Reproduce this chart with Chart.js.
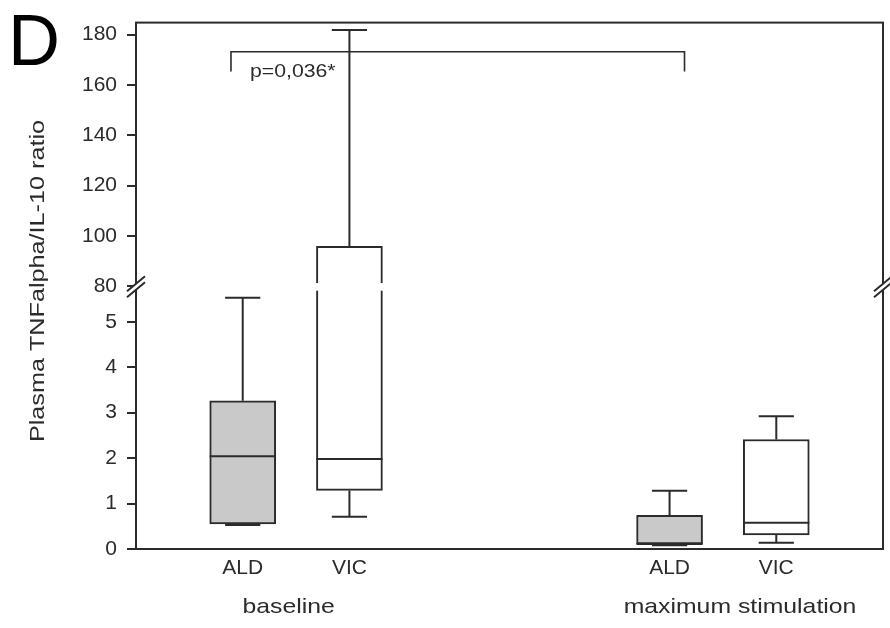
<!DOCTYPE html>
<html>
<head>
<meta charset="utf-8">
<script src="https://cdn.jsdelivr.net/npm/chart.js@4"></script>
<style>
  body { margin: 0; background: #fff; }
</style>
</head>
<body>
<canvas id="boxChart" width="890" height="628"></canvas>
<script>
// category slots on the x axis (empty slots make the gap between the two groups)
const xLabels = ["", "ALD", "VIC", "", "", "ALD", "VIC", ""];
const boxSlot = [1, 2, 5, 6];
const boxFill = ["#c9c9c9", "#ffffff", "#c9c9c9", "#ffffff"];

// box plot values: baseline ALD, baseline VIC, max stim ALD, max stim VIC
const whiskerLow  = [0.53, 0.71, 0.08, 0.14];
const q1          = [0.55, 1.29, 0.11, 0.31];
const median      = [2.04, 1.98, 0.11, 0.58];
const q3          = [3.26, 95.9, 0.74, 2.41];
const whiskerHigh = [5.53, 181.9, 1.28, 2.92];

// broken y axis
const lowerTicks = [0, 1, 2, 3, 4, 5];
const upperTicks = [80, 100, 120, 140, 160, 180];
const lowerTop = 5.69;     // where the box side stops below the break
const upperBottom = 81.2;  // where it starts again above the break

const groupNames = ["baseline", "maximum stimulation"];
const groupPos = [1.43, 5.66];

const bracketX = [0.89, 5.14];
const bracketY = [173.2, 165.4];
const pText = "p=0,036*";

const FONT = "'Liberation Sans', Arial, Helvetica, sans-serif";
const INK = "#2b2b2b";

const lowerData = xLabels.map(() => null);
const upperData = xLabels.map(() => null);
boxSlot.forEach((s, k) => {
    lowerData[s] = [q1[k], Math.min(q3[k], lowerTop)];
    if (q3[k] > lowerTop) upperData[s] = [upperBottom, q3[k]];
});
const slotFill = xLabels.map((_, s) => {
    const k = boxSlot.indexOf(s);
    return k < 0 ? "#fff" : boxFill[k];
});

function yScaleFor(chart, v) {
    return v > 50 ? chart.scales.yTop : chart.scales.y;
}

// text in the original figure is a bit wider than the installed fonts
function wideText(ctx, text, x, y, stretch) {
    ctx.save();
    ctx.translate(x, y);
    ctx.scale(stretch, 1);
    ctx.fillText(text, 0, 0);
    ctx.restore();
}

const boxPlugin = {
    id: "boxParts",
    afterDatasetsDraw(chart) {
        const ctx = chart.ctx;
        const x = chart.scales.x;
        const cap = 0.165;
        ctx.save();
        ctx.strokeStyle = INK;
        ctx.lineWidth = 2;
        boxSlot.forEach((s, k) => {
            const cx = x.getPixelForValue(s);
            const half = x.getPixelForValue(s + 0.31) - cx;
            const capW = x.getPixelForValue(s + cap) - cx;
            const py = v => yScaleFor(chart, v).getPixelForValue(v);
            ctx.beginPath();
            // upper whisker
            ctx.moveTo(cx, py(q3[k]));
            ctx.lineTo(cx, py(whiskerHigh[k]));
            ctx.moveTo(cx - capW, py(whiskerHigh[k]));
            ctx.lineTo(cx + capW, py(whiskerHigh[k]));
            // lower whisker
            ctx.moveTo(cx, py(q1[k]));
            ctx.lineTo(cx, py(whiskerLow[k]));
            ctx.moveTo(cx - capW, py(whiskerLow[k]));
            ctx.lineTo(cx + capW, py(whiskerLow[k]));
            // median
            ctx.moveTo(cx - half, py(median[k]));
            ctx.lineTo(cx + half, py(median[k]));
            ctx.stroke();
        });
        ctx.restore();
    },
    afterDraw(chart) {
        const ctx = chart.ctx;
        const a = chart.chartArea;
        const x = chart.scales.x;
        const yTop = chart.scales.yTop;
        const breakY = chart.scales.y.top;
        ctx.save();
        ctx.strokeStyle = INK;
        ctx.lineWidth = 2;
        ctx.strokeRect(a.left, a.top, a.right - a.left, a.bottom - a.top);

        // axis break marks
        [a.left, a.right].forEach(bx => {
            ctx.fillStyle = "#fff";
            ctx.beginPath();
            ctx.moveTo(bx - 9, breakY + 4.5);
            ctx.lineTo(bx + 9, breakY - 10.5);
            ctx.lineTo(bx + 9, breakY - 4.5);
            ctx.lineTo(bx - 9, breakY + 10.5);
            ctx.closePath();
            ctx.fill();
            ctx.beginPath();
            ctx.moveTo(bx - 9, breakY + 4.5);
            ctx.lineTo(bx + 9, breakY - 10.5);
            ctx.moveTo(bx - 9, breakY + 10.5);
            ctx.lineTo(bx + 9, breakY - 4.5);
            ctx.stroke();
        });

        // significance bracket
        const bx0 = x.getPixelForValue(bracketX[0]);
        const bx1 = x.getPixelForValue(bracketX[1]);
        const by0 = yTop.getPixelForValue(bracketY[0]);
        const by1 = yTop.getPixelForValue(bracketY[1]);
        ctx.lineWidth = 1.6;
        ctx.beginPath();
        ctx.moveTo(bx0, by1);
        ctx.lineTo(bx0, by0);
        ctx.lineTo(bx1, by0);
        ctx.lineTo(bx1, by1);
        ctx.stroke();

        ctx.fillStyle = INK;
        ctx.font = "18px " + FONT;
        ctx.textAlign = "left";
        ctx.textBaseline = "middle";
        wideText(ctx, pText, bx0 + 19, by1 + 1, 1.18);

        // group labels
        ctx.font = "21px " + FONT;
        ctx.textAlign = "center";
        groupNames.forEach((g, i) => {
            wideText(ctx, g, x.getPixelForValue(groupPos[i]), 607, 1.18);
        });

        // y title
        ctx.save();
        ctx.translate(38, 281);
        ctx.rotate(-Math.PI / 2);
        ctx.scale(1.2, 1);
        ctx.font = "21px " + FONT;
        ctx.fillText("Plasma TNFalpha/IL-10 ratio", 0, 0);
        ctx.restore();

        // panel letter
        ctx.font = "72px " + FONT;
        ctx.textAlign = "left";
        ctx.textBaseline = "alphabetic";
        ctx.fillStyle = "#000";
        ctx.fillText("D", 8, 65);
        ctx.restore();
    }
};

const tickFont = { family: FONT, size: 21 };
const yGrid = { drawOnChartArea: false, drawTicks: true, tickLength: 9, color: INK, lineWidth: 2 };

new Chart(document.getElementById("boxChart"), {
    type: "bar",
    data: {
        labels: xLabels,
        datasets: [
            {
                label: "box above break",
                data: upperData,
                yAxisID: "yTop",
                backgroundColor: slotFill,
                borderColor: INK,
                borderWidth: 2,
                borderSkipped: "bottom",
                grouped: false,
                barThickness: 66
            },
            {
                label: "box",
                data: lowerData,
                yAxisID: "y",
                backgroundColor: slotFill,
                borderColor: INK,
                borderWidth: 2,
                borderSkipped: c => {
                    const k = boxSlot.indexOf(c.dataIndex);
                    return k >= 0 && q3[k] > lowerTop ? "top" : false;
                },
                grouped: false,
                barThickness: 66
            }
        ]
    },
    options: {
        responsive: false,
        animation: false,
        layout: { padding: { top: 22, right: 7, left: 0, bottom: 0 } },
        plugins: {
            legend: { display: false },
            tooltip: { enabled: false }
        },
        scales: {
            x: {
                type: "category",
                offset: false,
                grid: { display: false, drawTicks: false },
                border: { display: false },
                ticks: { font: tickFont, color: INK, padding: 7, autoSkip: false, maxRotation: 0 },
                afterFit: s => { s.height = 79; }
            },
            y: {
                type: "linear",
                position: "left",
                stack: "v",
                stackWeight: 263,
                min: 0,
                max: 5.77,
                grid: yGrid,
                border: { display: false },
                ticks: {
                    font: tickFont, color: INK, padding: 10, stepSize: 1, includeBounds: false
                },
                afterBuildTicks: s => { s.ticks = lowerTicks.map(v => ({ value: v })); },
                afterFit: s => { s.width = 136; }
            },
            yTop: {
                type: "linear",
                position: "left",
                stack: "v",
                stackWeight: 265,
                min: 79.8,
                max: 184.8,
                grid: yGrid,
                border: { display: false },
                ticks: {
                    font: tickFont, color: INK, padding: 10, stepSize: 20, includeBounds: false
                },
                afterBuildTicks: s => { s.ticks = upperTicks.map(v => ({ value: v })); },
                afterFit: s => { s.width = 136; }
            }
        }
    },
    plugins: [boxPlugin]
});
</script>
</body>
</html>
